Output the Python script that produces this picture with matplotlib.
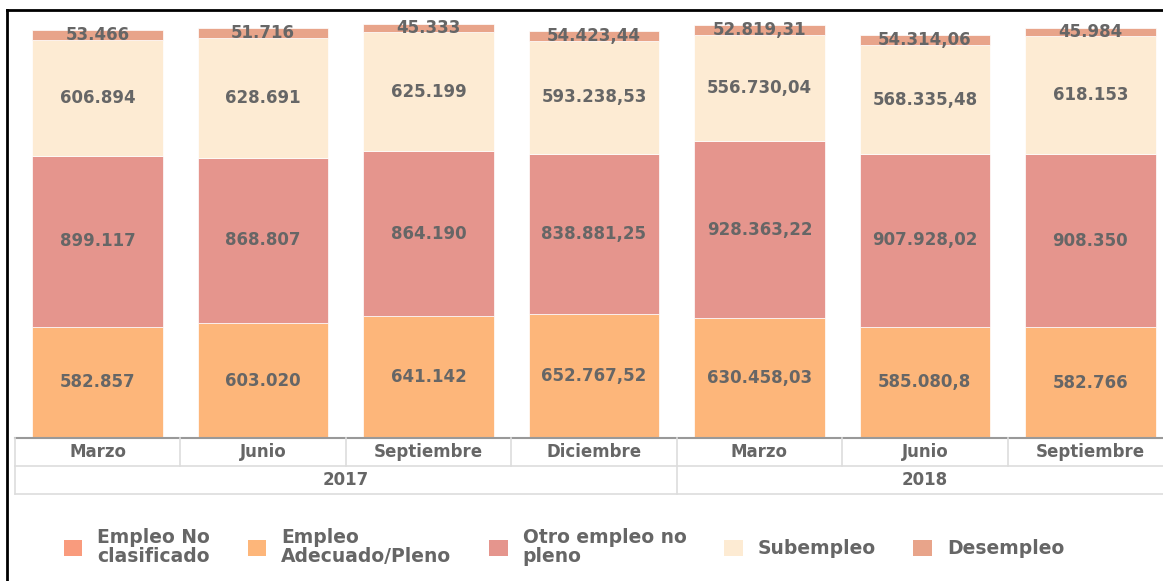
import matplotlib.pyplot as plt
from matplotlib.patches import Patch
from matplotlib.lines import Line2D

# Trimestres y años
meses = ["Marzo", "Junio", "Septiembre", "Diciembre", "Marzo", "Junio", "Septiembre"]
anios = ["2017", "2018"]
meses_por_anio = [4, 3]

# Series (personas)
no_clasificado = [0, 0, 0, 0, 0, 0, 0]
adecuado = [582857, 603020, 641142, 652767.52, 630458.03, 585080.8, 582766]
otro_no_pleno = [899117, 868807, 864190, 838881.25, 928363.22, 907928.02, 908350]
subempleo = [606894, 628691, 625199, 593238.53, 556730.04, 568335.48, 618153]
desempleo = [53466, 51716, 45333, 54423.44, 52819.31, 54314.06, 45984]

series = [
    ("Empleo No\nclasificado", no_clasificado, "#F99B7D"),
    ("Empleo\nAdecuado/Pleno", adecuado, "#FDB67A"),
    ("Otro empleo no\npleno", otro_no_pleno, "#E5958D"),
    ("Subempleo", subempleo, "#FDEBD3"),
    ("Desempleo", desempleo, "#E8A48A"),
]

TEXT = "#666666"


def fmt_es(v):
    s = f"{v:,.2f}".rstrip("0").rstrip(".")
    return s.replace(",", "#").replace(".", ",").replace("#", ".")


W, H = 1163, 581
fig = plt.figure(figsize=(W / 100, H / 100), dpi=100)
# axes: x from 15 to 1173 px, y from 438 to 20 px
ax = fig.add_axes([15 / W, (H - 438) / H, 1158 / W, 418 / H])

x = list(range(len(meses)))
bottom = [0.0] * len(meses)
for name, vals, color in series:
    ax.bar(x, vals, width=0.79, bottom=bottom, color=color, edgecolor="white", linewidth=0.5)
    for i, v in enumerate(vals):
        if v > 0:
            ax.text(i, bottom[i] + v / 2, fmt_es(v), ha="center", va="center",
                    fontsize=12, fontweight="bold", color=TEXT)
    bottom = [b + v for b, v in zip(bottom, vals)]

ax.set_xlim(-0.5, len(meses) - 0.5)
ax.set_ylim(0, 2194800)
ax.axis("off")

# Tabla de categorías bajo el eje
tr = ax.get_xaxis_transform()
r1, r2 = -28 / 418, -56 / 418
grid = "#dddddd"
ax.plot([-0.5, 6.5], [0, 0], color="#999999", lw=1.5, transform=tr, clip_on=False)
for yy in (r1, r2):
    ax.plot([-0.5, 6.5], [yy, yy], color=grid, lw=1.2, transform=tr, clip_on=False)
for i in range(len(meses) + 1):
    ax.plot([i - 0.5, i - 0.5], [0, r1], color=grid, lw=1.2, transform=tr, clip_on=False)
    if i < len(meses):
        ax.text(i, r1 / 2, meses[i], ha="center", va="center", fontsize=12,
                fontweight="bold", color=TEXT, transform=tr)
start = 0
for anio, n in zip(anios, meses_por_anio):
    ax.plot([start - 0.5, start - 0.5], [r1, r2], color=grid, lw=1.2, transform=tr, clip_on=False)
    ax.text(start + n / 2 - 0.5, (r1 + r2) / 2, anio, ha="center", va="center",
            fontsize=12, fontweight="bold", color=TEXT, transform=tr)
    start += n

# Borde negro superior e izquierdo
fig.add_artist(Line2D([7 / W, 7 / W], [0, 1 - 10 / H], color="black", lw=2))
fig.add_artist(Line2D([7 / W, 1], [1 - 10 / H, 1 - 10 / H], color="black", lw=2))

handles = [Patch(facecolor=c, edgecolor="none") for _, _, c in series]
labels = [n for n, _, _ in series]
leg = fig.legend(handles, labels, loc="center", bbox_to_anchor=(564 / W, 1 - 547 / H),
                 ncol=5, frameon=False, handlelength=1.0, handleheight=1.0,
                 handletextpad=0.8, columnspacing=2.0, labelspacing=0,
                 prop={"size": 13.5, "weight": "bold"})
for t in leg.get_texts():
    t.set_color(TEXT)
    t.set_linespacing(1.0)

fig.savefig("out.png", dpi=100)
